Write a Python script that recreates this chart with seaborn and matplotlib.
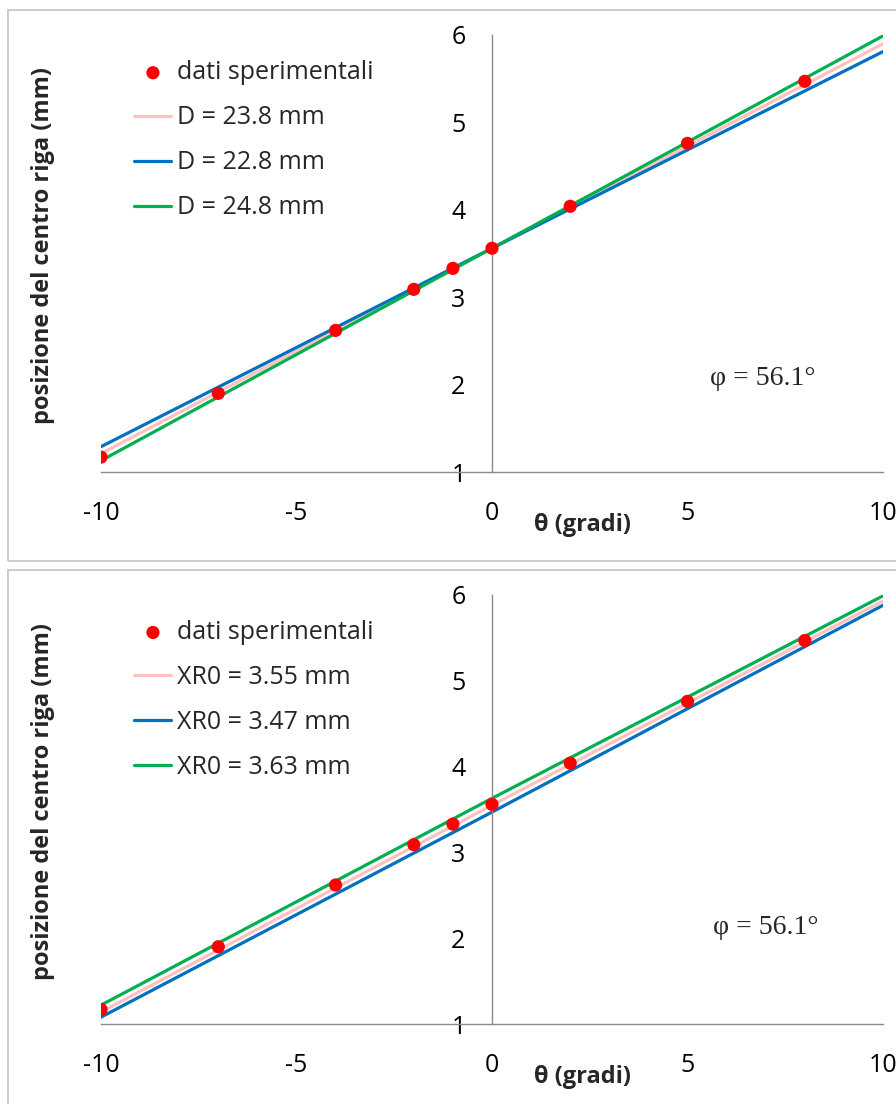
import matplotlib
matplotlib.use("Agg")
import matplotlib.pyplot as plt
import seaborn as sns
import pandas as pd
from matplotlib.patches import Rectangle

# ---- data ----
theta = [-10, -7, -4, -2, -1, 0, 2, 5, 8]
pos = [1.17, 1.90, 2.62, 3.09, 3.33, 3.56, 4.04, 4.76, 5.47]

line_x = [-10, 0, 10]
top_labels = ["D = 23.8 mm", "D = 22.8 mm", "D = 24.8 mm"]
top_pink = [1.21, 3.56, 5.90]
top_blue = [1.29, 3.56, 5.81]
top_green = [1.13, 3.56, 5.99]

bot_labels = ["XR0 = 3.55 mm", "XR0 = 3.47 mm", "XR0 = 3.63 mm"]
bot_pink = [1.14, 3.55, 5.93]
bot_blue = [1.08, 3.47, 5.88]
bot_green = [1.22, 3.63, 5.99]

x_ticks = [-10, -5, 0, 5, 10]
y_ticks = [1, 2, 3, 4, 5, 6]
xlabel = "θ (gradi)"
ylabel = "posizione del centro riga (mm)"
annot = "φ = 56.1°"
data_label = "dati sperimentali"

colors = ["#ffc0c0", "#0070c0", "#00b050"]
red = "#ff0000"
axis_gray = "#8c8c8c"

sns.set_theme(style="white")
plt.rcParams["font.family"] = ["Open Sans", "DejaVu Sans"]

fig = plt.figure(figsize=(8.96, 11.04), dpi=100)
W, H = 896, 1104

# panel borders
fig.add_artist(Rectangle((8 / W, 1 - 561 / H), 1.0, (561 - 10) / H,
                         transform=fig.transFigure, fill=False,
                         edgecolor="#c8c8c8", linewidth=1.3))
fig.add_artist(Rectangle((8 / W, -0.01), 1.0, 1 - 570 / H + 0.01,
                         transform=fig.transFigure, fill=False,
                         edgecolor="#c8c8c8", linewidth=1.3))


def panel(rect, labels, pink, blue, green, ann_xy, lab_y):
    ax = fig.add_axes(rect)
    for lab, yv, c in zip(labels, [pink, blue, green], colors):
        df = pd.DataFrame({"x": line_x, "y": yv})
        sns.lineplot(data=df, x="x", y="y", ax=ax, color=c, linewidth=2.3,
                     label=lab, zorder=2)
    pts = pd.DataFrame({"theta": theta, "pos": pos})
    sns.scatterplot(data=pts, x="theta", y="pos", ax=ax, color=red, s=90,
                    edgecolor="none", label=data_label, zorder=3)
    ax.set_xlim(-10, 10)
    ax.set_ylim(1, 6)
    ax.set_xticks(x_ticks)
    ax.set_yticks(y_ticks)
    ax.set_xticklabels([str(t) for t in x_ticks])
    ax.set_yticklabels([str(t) for t in y_ticks])
    for s in ["top", "right"]:
        ax.spines[s].set_visible(False)
    ax.spines["left"].set_position(("data", 0))
    for s in ["left", "bottom"]:
        ax.spines[s].set_color(axis_gray)
        ax.spines[s].set_linewidth(1.0)
    ax.tick_params(axis="x", direction="out", length=8, width=1.0,
                   color=axis_gray, pad=13, labelsize=18, labelcolor="black")
    ax.tick_params(axis="y", direction="out", length=10, width=1.0,
                   color=axis_gray, pad=9, labelsize=18, labelcolor="black")
    ax.set_xlabel(xlabel, fontsize=17, fontweight="bold")
    ax.set_ylabel(ylabel, fontsize=17, fontweight="bold")
    ax.xaxis.set_label_coords(0.616, lab_y)
    ax.yaxis.set_label_coords(-0.0588, 0.518)
    ax.text(ann_xy[0], ann_xy[1], annot, transform=ax.transAxes,
            fontsize=20, family="Liberation Serif", ha="center", va="center")
    h, l = ax.get_legend_handles_labels()
    order = [l.index(data_label)] + [l.index(x) for x in labels]
    ax.legend([h[i] for i in order], [l[i] for i in order], loc="upper left",
              bbox_to_anchor=(0.030, 0.965), frameon=False, fontsize=18,
              handlelength=1.48, handletextpad=0.24, labelspacing=0.8,
              borderaxespad=0, markerscale=1.0)
    ax.patch.set_alpha(0)
    return ax


panel([101 / W, 1 - 472 / H, 782 / W, 437 / H], top_labels,
      top_pink, top_blue, top_green, (0.846, 0.215), -0.094)
panel([101 / W, 1 - 1024 / H, 782 / W, 429 / H], bot_labels,
      bot_pink, bot_blue, bot_green, (0.850, 0.224), -0.0956)

fig.savefig("out.png", dpi=100)
